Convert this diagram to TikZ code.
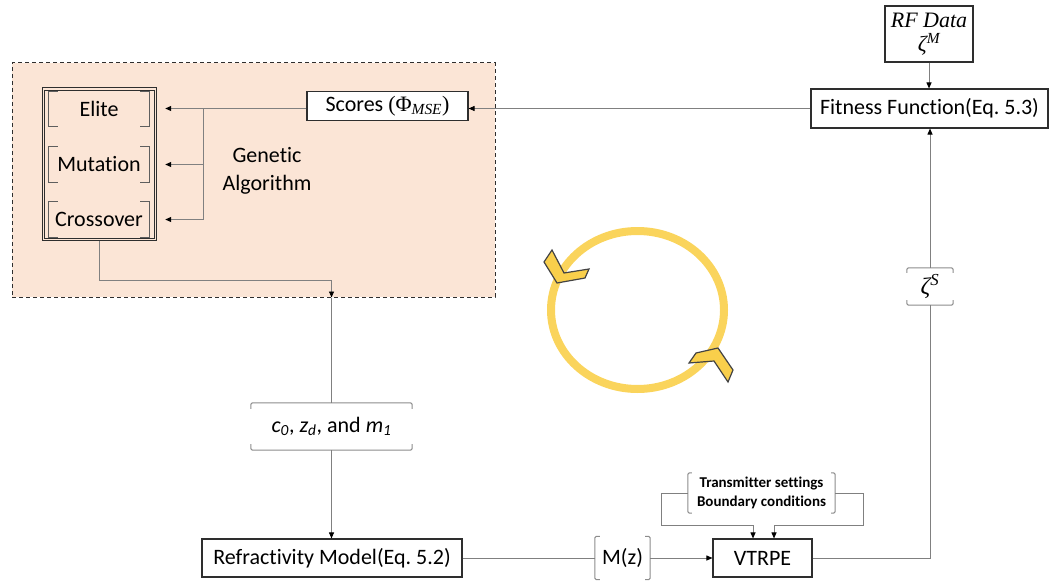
\documentclass[tikz,border=0pt]{standalone}
\usepackage{fontspec}
\setmainfont{Carlito}[Ligatures=NoCommon]
\newfontfamily\serif{Liberation Serif}
\usetikzlibrary{arrows.meta}

\definecolor{peach}{HTML}{FBE5D6}
\definecolor{ringgold}{HTML}{FAD45C}
\definecolor{chevgold}{HTML}{F9CF4B}
\definecolor{wire}{HTML}{808080}
\definecolor{edge}{HTML}{2E2E2E}
\definecolor{brkdark}{HTML}{5E5E5E}
\definecolor{brklight}{HTML}{8C8C8C}

% square brackets on the left and right sides of a node
\newcommand\sqbrk[3]{%
  \draw[#3] ([xshift=#2]#1.north west) -- (#1.north west) -- (#1.south west) -- ([xshift=#2]#1.south west);
  \draw[#3] ([xshift=-#2]#1.north east) -- (#1.north east) -- (#1.south east) -- ([xshift=-#2]#1.south east);}
% brackets above and below a node
\newcommand\hzbrk[3]{%
  \draw[#3] ([yshift=-#2]#1.north west) -- (#1.north west) -- (#1.north east) -- ([yshift=-#2]#1.north east);
  \draw[#3] ([yshift=#2]#1.south west) -- (#1.south west) -- (#1.south east) -- ([yshift=#2]#1.south east);}

\begin{document}
\begin{tikzpicture}[x=1pt,y=-1pt,
  every node/.style={font=\fontsize{22}{26}\selectfont, inner sep=0pt},
  box/.style={draw=edge, line width=1.1pt, fill=white},
  group/.style={draw=edge, fill=peach, line width=1pt, dash pattern=on 4pt off 3pt},
  wire/.style={draw=wire, line width=0.9pt},
  arr/.style={wire, -{Triangle[length=6pt,width=5pt,color=black]}},
  darkbrk/.style={draw=brkdark, line width=1pt},
  lightbrk/.style={draw=brklight, line width=1pt, rounded corners=1.5pt},
  chev/.style={fill=chevgold, draw=edge!90, line width=1.2pt, line join=miter}]

\useasboundingbox (0,0) rectangle (1057,583);

% genetic algorithm region
\node[group, minimum width=483, minimum height=234] (ga) at (253.5,180) {};

% population box (double frame) with its three operators
\node[draw=edge, line width=1pt, minimum width=114, minimum height=152] (pop) at (99,164) {};
\draw[edge, line width=0.9pt] ([shift={(2.5pt,-2.5pt)}]pop.north west) rectangle ([shift={(-2.5pt,2.5pt)}]pop.south east);
\node[minimum width=100, minimum height=35] (elite) at (99,109) {Elite};
\node[minimum width=100, minimum height=35] (mutation) at (99,164.5) {Mutation};
\node[minimum width=100, minimum height=35] (crossover) at (99,219.5) {Crossover};
\sqbrk{elite}{9pt}{darkbrk}
\sqbrk{mutation}{9pt}{darkbrk}
\sqbrk{crossover}{9pt}{darkbrk}

\node[box, minimum width=161, minimum height=29] (scores) at (387.5,106)
  {Scores {\serif(Φ\textsubscript{\itshape MSE})}};
\node[align=center, font=\fontsize{22}{28}\selectfont] (galabel) at (267,171) {Genetic\\Algorithm};

% measured data and fitness
\node[box, minimum width=88, minimum height=56, align=center,
      font=\serif\itshape\fontsize{22}{24}\selectfont] (rf) at (929,34)
  {RF Data\\ζ\textsuperscript{M}};
\node[box, minimum width=237, minimum height=39] (fitness) at (929.5,108.5)
  {Fitness Function(Eq.~5.3)};

% simulated field
\node[minimum width=46, minimum height=37, font=\serif\itshape\fontsize{24}{26}\selectfont]
  (zs) at (930,286.5) {ζ\textsuperscript{S}};
\hzbrk{zs}{5pt}{lightbrk}

% refractivity parameters and model
\node[minimum width=161, minimum height=47] (c0) at (331.5,426.5)
  {\textit{c}\textsubscript{\textit{0}}, \textit{z}\textsubscript{\textit{d}}, and \textit{m}\textsubscript{\textit{1}}};
\hzbrk{c0}{6pt}{lightbrk}
\node[box, minimum width=260, minimum height=38] (refr) at (332,558)
  {Refractivity Model(Eq.~5.2)};

% propagation model
\node[minimum width=55, minimum height=43] (mz) at (622.5,558) {M(z)};
\sqbrk{mz}{5pt}{lightbrk}
\node[box, minimum width=99, minimum height=38] (vtrpe) at (762.5,558) {VTRPE};
\node[minimum width=147, minimum height=40, align=center,
      font=\bfseries\fontsize{15}{19}\selectfont] (tx) at (761.5,493)
  {Transmitter settings\\Boundary conditions};
\sqbrk{tx}{4pt}{lightbrk}

% connectors
\coordinate (sw) at ([yshift=-2.5pt]scores.west);
\coordinate (br) at (203,0);
\coordinate (kk) at (0,280);
\draw[arr] (rf.south) -- (rf.south |- fitness.north);
\draw[arr] (fitness.west) -- (fitness.west -| scores.east);
\draw[arr] (sw) -- ([xshift=16pt]elite.east |- sw);
\draw[wire] (br |- sw) -- (br |- crossover.east);
\draw[arr] (br |- mutation.east) -- ([xshift=16pt]mutation.east);
\draw[arr] (br |- crossover.east) -- ([xshift=16pt]crossover.east);
\draw[arr] (pop.south) -- (pop.south |- kk) -- (c0.north |- kk) -- (c0.north |- ga.south);
\draw[wire] (c0.north |- ga.south) -- (c0.north);
\draw[arr] (c0.south) -- (c0.south |- refr.north);
\draw[wire] (refr.east) -- (mz.west);
\draw[arr] (mz.east) -- (vtrpe.west);
\draw[arr] (tx.west) -- ++(-26,0) -- ++(0,32) -| ([xshift=-9.5pt]vtrpe.north);
\draw[arr] (tx.east) -- ++(28,0) -- ++(0,32) -| ([xshift=11.5pt]vtrpe.north);
\draw[wire] (vtrpe.east) -- (vtrpe.east -| zs.south) -- (zs.south);
\draw[arr] (zs.north) -- (zs.north |- fitness.south);

% iteration ring
\draw[ringgold, line width=8pt] (637.5,310) ellipse [x radius=86.5, y radius=79];
\draw[chev] (552,250) -- (544,262) -- (557,283) -- (585,278) -- (589,269) -- (564,273) -- cycle;
\draw[chev] (689,363) -- (696,353) -- (718,348) -- (733,370) -- (728,382) -- (714,361) -- cycle;

\end{tikzpicture}
\end{document}
